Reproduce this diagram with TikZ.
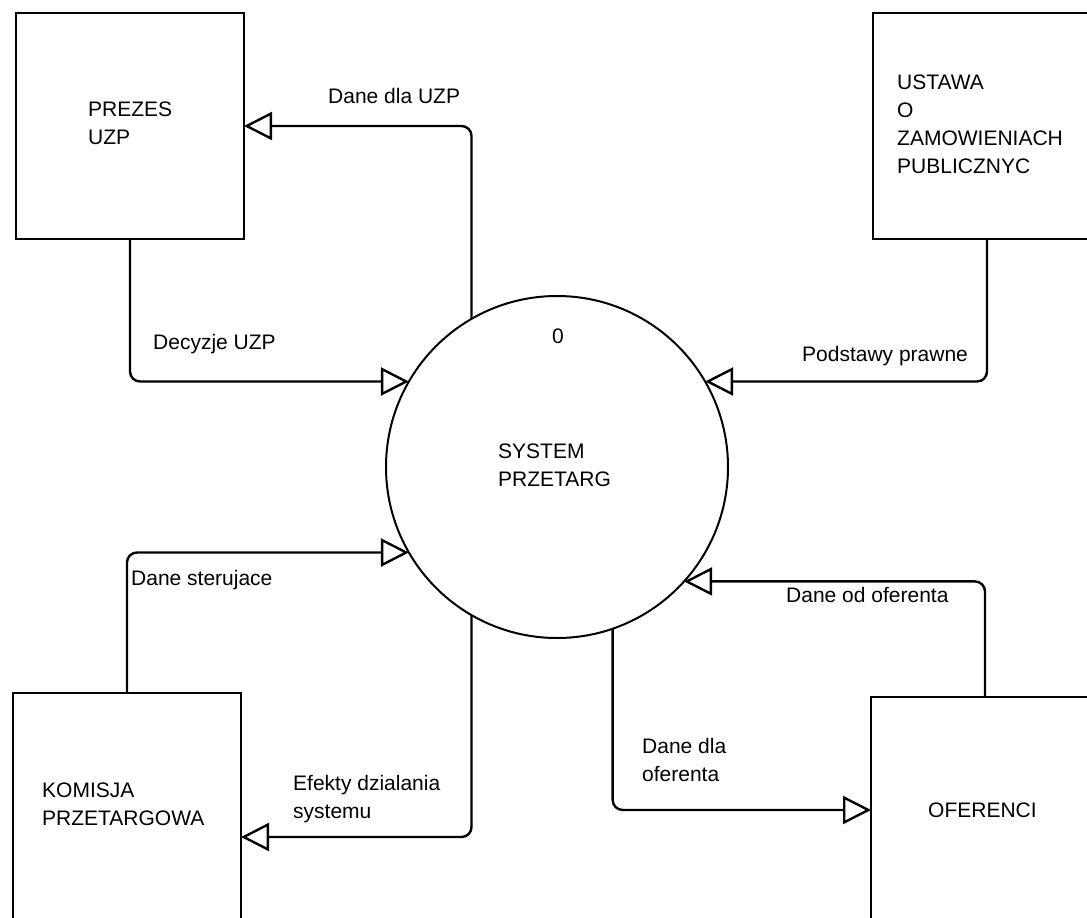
\documentclass[tikz,border=0pt]{standalone}
\usepackage{fontspec}
\setmainfont{Liberation Sans}
\usetikzlibrary{arrows.meta}

\tikzset{
  box/.style={draw, line width=2.4pt, minimum width=228pt, inner sep=0pt, outer sep=0pt},
  proc/.style={draw, circle, line width=2pt, minimum size=342pt, inner sep=0pt, outer sep=0pt},
  flow/.style={line width=2.4pt, rounded corners=10pt,
    -{Triangle[open, length=28pt, width=28pt, line width=2.4pt]}},
  % base of a multi-line text is its last line
  txt/.style={anchor=base west, inner sep=0pt, align=left,
    font=\fontsize{21}{28}\selectfont}
}

\begin{document}
\begin{tikzpicture}[x=1pt, y=-1pt]
  \useasboundingbox (0,0) rectangle (1087,918);
  \clip (0,0) rectangle (1087,918);

  % terminators and the process
  \foreach \name/\x/\y/\h in {
    prezes/130/126/226, ustawa/987/126/226,
    komisja/127/837/288, oferenci/985/810/226} {
    \node[box, minimum height=\h pt] (\name) at (\x,\y) {};
  }
  \node[proc] (sys) at (557,467) {};

  % texts inside
  \node[txt] (prezes-t) at (88,144) {PREZES\\UZP};
  \node[txt] (ustawa-t) at (897,173) {USTAWA\\O\\ZAMOWIENIACH\\PUBLICZNYC};
  \node[txt] (komisja-t) at (42,825) {KOMISJA\\PRZETARGOWA};
  \node[txt] (oferenci-t) at (928,817) {OFERENCI};
  \node[txt, anchor=base] (sys-nr) at (558,343) {0};
  \node[txt] (sys-t) at (498,486) {SYSTEM\\PRZETARG};

  % data flows
  \draw[flow] (sys.120) |- (prezes.east);
  \draw[flow] (prezes.south) |- (sys.150);
  \draw[flow] (ustawa.south) |- (sys.30);
  \draw[flow] (komisja.north) |- (sys.210);
  \draw[flow] (sys.240) |- (komisja.east);
  \draw[flow] (oferenci.north) |- (sys.-42);
  \draw[flow] (sys.-71) |- (oferenci.west);

  % flow labels
  \node[txt] (l-dane-uzp) at (328,103) {Dane dla UZP};
  \node[txt] (l-decyzje) at (153,349) {Decyzje UZP};
  \node[txt] (l-podstawy) at (802,361) {Podstawy prawne};
  \node[txt] (l-sterujace) at (131,585) {Dane sterujace};
  \node[txt] (l-efekty) at (293,818) {Efekty dzialania\\systemu};
  \node[txt] (l-od-of) at (786,602) {Dane od oferenta};
  \node[txt] (l-dla-of) at (642,781) {Dane dla\\oferenta};
\end{tikzpicture}
\end{document}
